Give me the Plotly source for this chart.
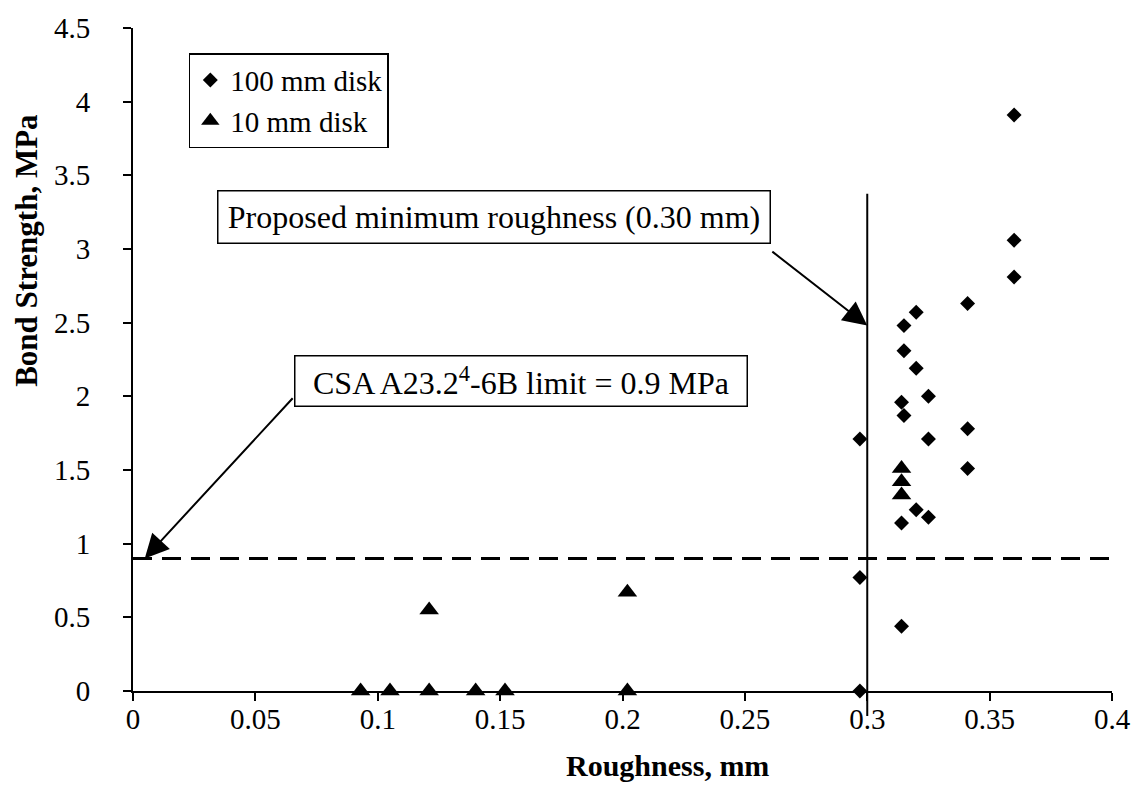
import plotly.graph_objects as go

# ---- data -------------------------------------------------------------
# 100 mm disk pull-off tests
rough_100 = [0.297, 0.297, 0.297,
             0.314, 0.314, 0.314,
             0.315, 0.315, 0.315,
             0.320, 0.320, 0.320,
             0.325, 0.325, 0.325,
             0.341, 0.341, 0.341,
             0.360, 0.360, 0.360]
bond_100 = [1.71, 0.77, 0.00,
            1.96, 1.14, 0.44,
            2.48, 2.31, 1.87,
            2.57, 2.19, 1.23,
            2.00, 1.71, 1.18,
            2.63, 1.78, 1.51,
            3.91, 3.06, 2.81]

# 10 mm disk pull-off tests
rough_10 = [0.093, 0.105, 0.121, 0.121, 0.140, 0.152, 0.202, 0.202, 0.314, 0.314, 0.314]
bond_10 = [0.00, 0.00, 0.00, 0.55, 0.00, 0.00, 0.00, 0.67, 1.51, 1.42, 1.33]

# reference limits
csa_limit = 0.9          # MPa
min_roughness = 0.30     # mm

x_ticks = [0, 0.05, 0.1, 0.15, 0.2, 0.25, 0.3, 0.35, 0.4]
y_ticks = [0, 0.5, 1, 1.5, 2, 2.5, 3, 3.5, 4, 4.5]

# ---- styling ------------------------------------------------------------
SERIF = "Liberation Serif, Times New Roman, serif"
X_RANGE = [0, 0.4]
Y_RANGE = [0, 4.5]

fig = go.Figure()

fig.add_trace(go.Scatter(
    x=rough_100, y=bond_100, mode="markers", name="100 mm disk",
    marker=dict(symbol="diamond", size=11.5, color="black", line=dict(width=0)),
    cliponaxis=False,
))
fig.add_trace(go.Scatter(
    x=rough_10, y=bond_10, mode="markers", name="10 mm disk",
    marker=dict(symbol="triangle-up", size=17, color="black", line=dict(width=0)),
    cliponaxis=False,
))

# dashed CSA limit line
fig.add_shape(type="line", xref="x", yref="y",
              x0=X_RANGE[0], x1=X_RANGE[1], y0=csa_limit, y1=csa_limit,
              line=dict(color="black", width=3, dash="19px,10px"), layer="above")

# vertical proposed minimum roughness line (runs a little below the axis)
line_bottom, line_top = -0.17, 3.375
fig.add_shape(type="line", xref="x", yref="paper",
              x0=min_roughness, x1=min_roughness,
              y0=line_bottom / Y_RANGE[1], y1=line_top / Y_RANGE[1],
              line=dict(color="black", width=2), layer="above")

box_font = dict(family=SERIF, size=32, color="black")

# boxed callouts
fig.add_annotation(
    x=0.1473, y=3.219, xref="x", yref="y",
    text=f"Proposed minimum roughness ({min_roughness:.2f} mm)",
    showarrow=False, font=box_font, align="center",
    width=543, height=43, borderpad=4, borderwidth=1.5,
    bordercolor="black", bgcolor="white",
)
fig.add_annotation(
    x=0.1586, y=2.106, xref="x", yref="y",
    text=f"CSA A23.2<sup>4</sup>-6B limit = {csa_limit} MPa",
    showarrow=False, font=box_font, align="center",
    width=443, height=41, borderpad=4, borderwidth=1.5,
    bordercolor="black", bgcolor="white",
)

# arrows from the callouts
arrow_style = dict(showarrow=True, arrowhead=2, arrowsize=2.4, arrowwidth=2,
                   arrowcolor="black", standoff=0, startstandoff=0, text="")
fig.add_annotation(x=min_roughness, y=2.48, xref="x", yref="y",
                   ax=0.2606, ay=2.99, axref="x", ayref="y", **arrow_style)
fig.add_annotation(x=0.0048, y=csa_limit, xref="x", yref="y",
                   ax=0.0658, ay=1.997, axref="x", ayref="y", **arrow_style)

# axis titles
fig.add_annotation(x=0.5463, y=-0.1118, xref="paper", yref="paper",
                   text="<b>Roughness, mm</b>", showarrow=False,
                   font=dict(family=SERIF, size=30, color="black"),
                   xanchor="center", yanchor="middle")
fig.add_annotation(x=-0.1096, y=0.665, xref="paper", yref="paper",
                   text="<b>Bond Strength, MPa</b>", showarrow=False,
                   font=dict(family=SERIF, size=31, color="black"),
                   textangle=-90, xanchor="center", yanchor="middle")

axis_common = dict(
    showline=True, linecolor="black", linewidth=2,
    ticks="outside", ticklen=8, tickwidth=2, tickcolor="black",
    showgrid=False, zeroline=False,
    tickfont=dict(family=SERIF, size=29, color="black"),
)

fig.update_xaxes(range=X_RANGE, tickmode="array", tickvals=x_ticks,
                 ticktext=[f"{v:g}" for v in x_ticks], ticklabelstandoff=-7,
                 **axis_common)
fig.update_yaxes(range=Y_RANGE, tickmode="array", tickvals=y_ticks,
                 ticktext=[f"{v:g}" for v in y_ticks], ticklabelstandoff=27,
                 **axis_common)

fig.update_layout(
    width=1144, height=795, autosize=False,
    margin=dict(l=133, r=32, t=20, b=104),
    paper_bgcolor="white", plot_bgcolor="white",
    showlegend=True,
    legend=dict(x=0.057, y=0.962, xanchor="left", yanchor="top",
                bordercolor="black", borderwidth=1.5, bgcolor="white",
                font=dict(family=SERIF, size=29, color="black"),
                tracegroupgap=0, itemwidth=30),
)

fig.write_html("out.html")
